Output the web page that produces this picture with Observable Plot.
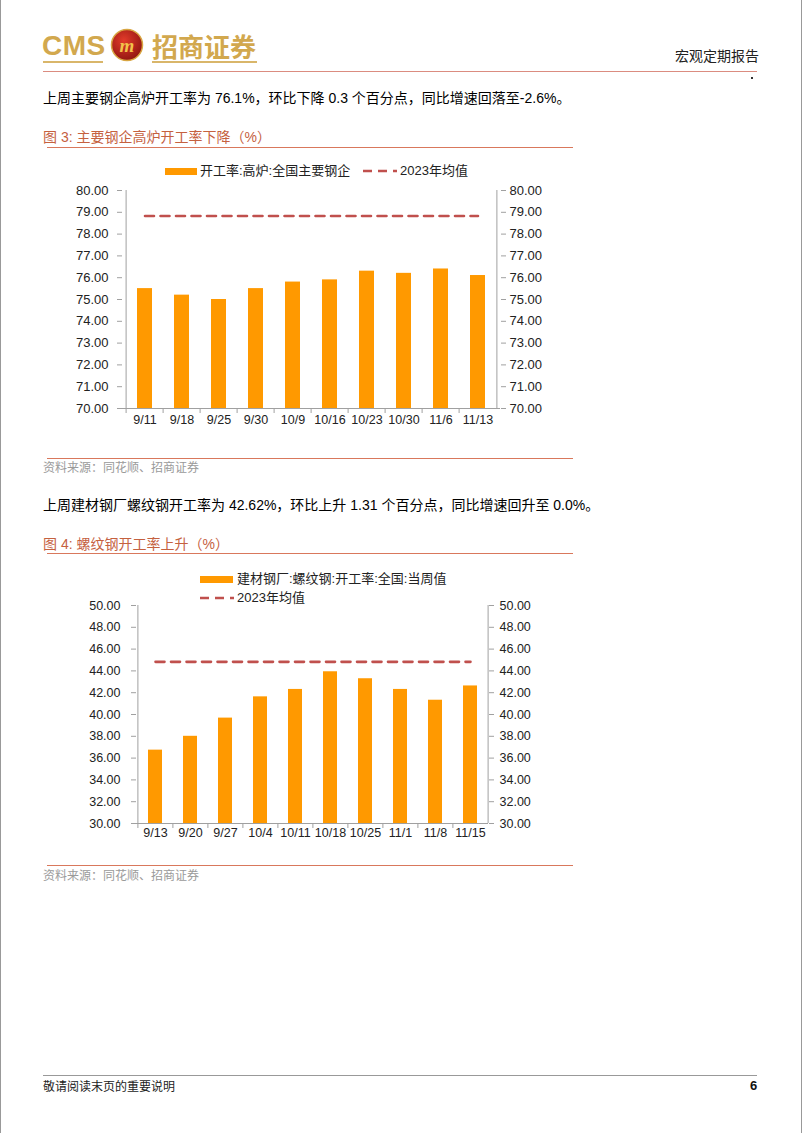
<!DOCTYPE html>
<html><head><meta charset="utf-8">
<script src="https://cdn.jsdelivr.net/npm/d3@7"></script>
<script src="https://cdn.jsdelivr.net/npm/@observablehq/plot@0.6"></script>
<style>
body{margin:0;background:#fff;}
#page{position:relative;width:802px;height:1133px;overflow:hidden;background:#fff;font-family:"Liberation Sans",Arial,"Noto Sans CJK SC",sans-serif;color:#111;}
.t{position:absolute;white-space:nowrap;height:20px;line-height:20px;}
.hl{position:absolute;height:0;}
.sw{position:absolute;}
</style></head>
<body><div id="page"></div>
<script>
// ---------- data ----------
const dates1 = ["9/11","9/18","9/25","9/30","10/9","10/16","10/23","10/30","11/6","11/13"];
const rate1  = [75.5, 75.2, 75.0, 75.5, 75.8, 75.9, 76.3, 76.2, 76.4, 76.1];
const mean1  = 78.83;
const yTicks1 = [70,71,72,73,74,75,76,77,78,79,80];

const dates2 = ["9/13","9/20","9/27","10/4","10/11","10/18","10/25","11/1","11/8","11/15"];
const rate2  = [36.73, 38.0, 39.67, 41.62, 42.3, 43.92, 43.28, 42.3, 41.31, 42.62];
const mean2  = 44.83;
const yTicks2 = [30,32,34,36,38,40,42,44,46,48,50];

const series1Name = "开工率:高炉:全国主要钢企";
const series2Name = "建材钢厂:螺纹钢:开工率:全国:当周值";
const meanName = "2023年均值";

// ---------- styles ----------
const BAR = "#FF9900", MEAN = "#C0504D", AXIS = "#A0A0A0", TXT = "#222";
const TITLE = "#C5613F", RULE = "#D9785C";

const page = document.getElementById("page");
function text(str, x, cy, css = {}) {
  const d = document.createElement("div");
  d.className = "t"; d.textContent = str;
  d.style.left = x + "px"; d.style.top = (cy - 10) + "px";
  Object.assign(d.style, css);
  page.appendChild(d); return d;
}
function hline(x1, x2, y, color, w = 1) {
  const d = document.createElement("div");
  d.className = "hl";
  Object.assign(d.style, {left: x1 + "px", width: (x2 - x1) + "px", top: (y - w / 2) + "px", borderTop: `${w}px solid ${color}`});
  page.appendChild(d);
}
function barSwatch(x, cy, w) {
  const d = document.createElement("div");
  d.className = "sw";
  Object.assign(d.style, {left: x + "px", top: (cy - 3.5) + "px", width: w + "px", height: "7px", background: BAR});
  page.appendChild(d);
}
function dashSwatch(x, cy, w) {
  const ns = "http://www.w3.org/2000/svg";
  const s = document.createElementNS(ns, "svg");
  s.setAttribute("width", w); s.setAttribute("height", 8);
  s.style.position = "absolute"; s.style.left = x + "px"; s.style.top = (cy - 4) + "px";
  const l = document.createElementNS(ns, "line");
  l.setAttribute("x1", 0); l.setAttribute("x2", w); l.setAttribute("y1", 4); l.setAttribute("y2", 4);
  l.setAttribute("stroke", MEAN); l.setAttribute("stroke-width", 2.6); l.setAttribute("stroke-dasharray", "9,6");
  s.appendChild(l); page.appendChild(s);
}

// ---------- page frame ----------
const border = document.createElement("div");
Object.assign(border.style, {position: "absolute", left: "0", top: "0", width: "800px", height: "1133px", borderLeft: "1px solid #999", borderRight: "1px solid #999"});
page.appendChild(border);

// header logo
text("CMS", 42, 46, {fontSize: "28px", fontWeight: "bold", color: "#D2A84E", height: "34px", lineHeight: "34px", top: "29px", letterSpacing: "0.5px"});
(function logo() {
  const ns = "http://www.w3.org/2000/svg";
  const s = document.createElementNS(ns, "svg");
  s.setAttribute("width", 36); s.setAttribute("height", 36);
  Object.assign(s.style, {position: "absolute", left: "109px", top: "27px"});
  s.innerHTML = `<defs><radialGradient id="lg" cx="40%" cy="35%" r="70%"><stop offset="0" stop-color="#E23B2A"/><stop offset="1" stop-color="#8E1410"/></radialGradient></defs>
  <circle cx="18" cy="18" r="15.5" fill="url(#lg)" stroke="#D8A642" stroke-width="1.5"/>
  <text x="18" y="25" text-anchor="middle" font-family="Liberation Serif" font-style="italic" font-weight="bold" font-size="19" fill="#F2C24A">m</text>`;
  page.appendChild(s);
})();
text("招商证券", 152, 46, {fontSize: "26px", fontWeight: "bold", color: "#D2A84E", height: "34px", lineHeight: "34px", top: "29px", fontFamily: "'Noto Sans CJK SC'"});
hline(43, 103, 62, "#D9B66A", 2);
hline(152, 257, 62, "#D9B66A", 2);
hline(43, 757, 72, "#DB8C80", 1.5);
text("宏观定期报告", 675, 55, {fontSize: "14px", fontFamily: "'Noto Sans CJK SC'", color: "#222"});
const dot = document.createElement("div");
Object.assign(dot.style, {position: "absolute", left: "751px", top: "77px", width: "2px", height: "2px", background: "#333"});
page.appendChild(dot);

// section 1 texts
text("上周主要钢企高炉开工率为 76.1%，环比下降 0.3 个百分点，同比增速回落至-2.6%。", 43, 98, {fontSize: "14px", color: "#000"});
text("图 3:  主要钢企高炉开工率下降（%）", 43, 137, {fontSize: "14px", color: TITLE});
hline(47, 573, 148, RULE, 1.5);
barSwatch(165, 171, 32);
text(series1Name, 200, 171, {fontSize: "13px", color: TXT});
dashSwatch(363, 171, 34);
text(meanName, 400, 171, {fontSize: "13px", color: TXT});
hline(47, 573, 459, RULE, 1.5);
text("资料来源：同花顺、招商证券", 43, 468, {fontSize: "12px", color: "#9A9A9A"});

// section 2 texts
text("上周建材钢厂螺纹钢开工率为 42.62%，环比上升 1.31 个百分点，同比增速回升至 0.0%。", 43, 505, {fontSize: "14px", color: "#000"});
text("图 4:  螺纹钢开工率上升（%）", 43, 544, {fontSize: "14px", color: TITLE});
hline(47, 573, 554, RULE, 1.5);
barSwatch(200, 579, 33);
text(series2Name, 237, 579, {fontSize: "13px", color: TXT});
dashSwatch(200, 598, 34);
text(meanName, 237, 598, {fontSize: "13px", color: TXT});
hline(47, 573, 866, RULE, 1.5);
text("资料来源：同花顺、招商证券", 43, 876, {fontSize: "12px", color: "#9A9A9A"});

// footer
hline(43, 757, 1075, "#999", 1);
text("敬请阅读末页的重要说明", 43, 1086, {fontSize: "12px", fontFamily: "'Noto Sans CJK SC'", color: "#222"});
text("6", 750, 1086, {fontSize: "13px", fontWeight: "bold", color: "#111"});

// ---------- charts ----------
function chart(o) {
  const data = o.dates.map((d, i) => ({date: d, value: o.values[i]}));
  const step = (o.width - o.ml - o.mr) / o.dates.length;
  const y0 = o.yTicks[0], yTop = o.yTicks[o.yTicks.length - 1];
  const svg = Plot.plot({
    width: o.width, height: o.height,
    marginLeft: o.ml, marginRight: o.mr, marginTop: o.mt, marginBottom: o.mb,
    style: {fontFamily: "'Liberation Sans', Arial, sans-serif", color: TXT, background: "transparent", overflow: "visible"},
    x: {type: "band", domain: o.dates, paddingInner: 0.6, paddingOuter: 0.3, axis: null, label: null},
    y: {domain: [y0, yTop], axis: null, label: null},
    marks: [
      Plot.barY(data, {x: "date", y1: () => y0, y2: "value", fill: BAR}),
      Plot.lineY(data, {x: "date", y: () => o.mean, stroke: MEAN, strokeWidth: 2.6, strokeDasharray: "9,6.5"}),
      Plot.ruleY([y0], {stroke: AXIS}),
      Plot.ruleX([o.dates[0]], {dx: -step / 2, stroke: AXIS}),
      Plot.ruleX([o.dates[o.dates.length - 1]], {dx: step / 2, stroke: AXIS}),
      Plot.axisY(o.yTicks, {anchor: "left", label: null, tickFormat: d => d.toFixed(2), tickSize: 5, tickPadding: o.padL, fontSize: o.yFont, stroke: AXIS, fill: TXT}),
      Plot.axisY(o.yTicks, {anchor: "right", label: null, tickFormat: d => d.toFixed(2), tickSize: 5, tickPadding: o.padR, fontSize: o.yFont, stroke: AXIS, fill: TXT}),
      Plot.axisX({anchor: "bottom", label: null, tickSize: 5, tickFormat: () => "", dx: -step / 2, stroke: AXIS}),
      Plot.axisX({anchor: "bottom", label: null, tickSize: 0, tickPadding: o.xPad, fontSize: o.xFont, fill: TXT})
    ]
  });
  Object.assign(svg.style, {position: "absolute", left: "0px", top: o.top + "px"});
  page.appendChild(svg);
}

chart({dates: dates1, values: rate1, mean: mean1, yTicks: yTicks1,
  top: 180, width: 560, height: 260, ml: 122, mr: 60, mt: 10, mb: 32,
  yFont: 13, xFont: 12.5, padL: 9, padR: 4, xPad: 7});

chart({dates: dates2, values: rate2, mean: mean2, yTicks: yTicks2,
  top: 594, width: 560, height: 259, ml: 136, mr: 72, mt: 11, mb: 30,
  yFont: 12.5, xFont: 12.5, padL: 11, padR: 6, xPad: 5});
</script>
</body></html>
